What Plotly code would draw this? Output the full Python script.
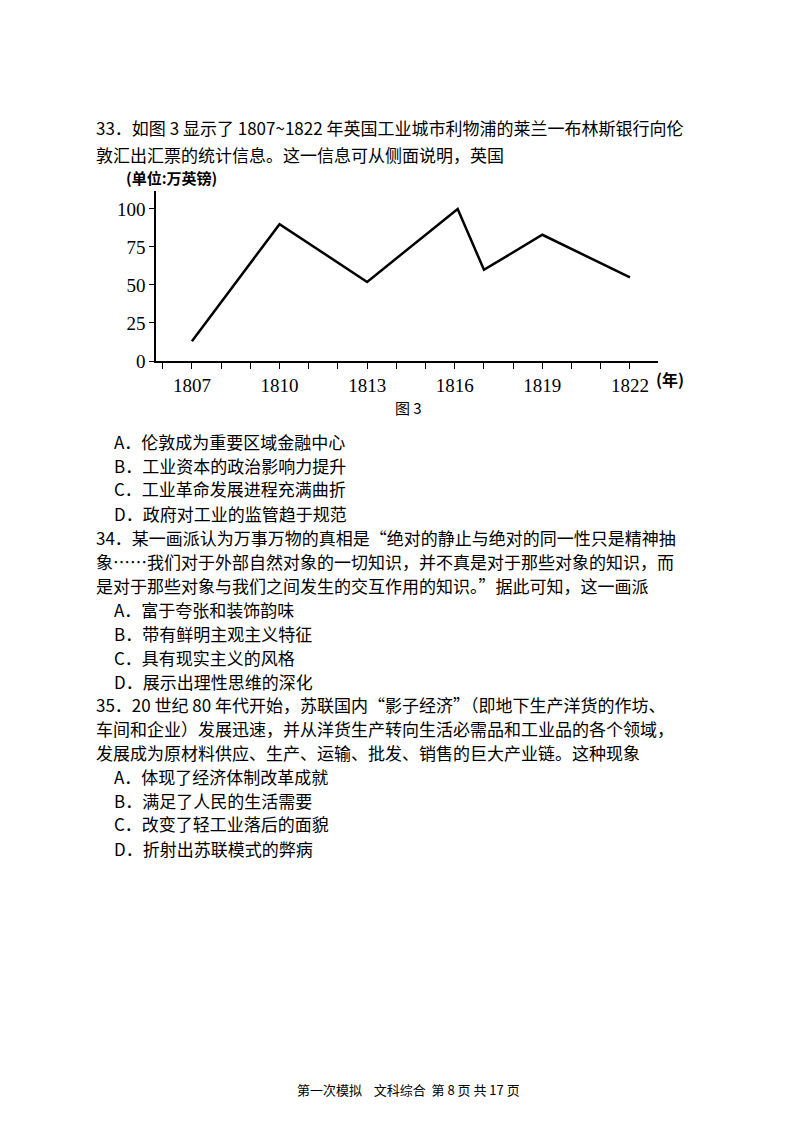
import plotly.graph_objects as go

years = [1807, 1810, 1813, 1816.1, 1817, 1819, 1822]
values = [13, 90, 52, 100, 60, 83, 55]
xtick_vals = [1807, 1810, 1813, 1816, 1819, 1822]
xtick_text = ["1807", "1810", "1813", "1816", "1819", "1822"]
ytick_vals = [0, 25, 50, 75, 100]

W, H = 800, 1129
fig = go.Figure(go.Scatter(x=years, y=values, mode="lines",
                           line=dict(color="black", width=2.5), showlegend=False))

fig.update_layout(
    width=W, height=H, margin=dict(l=0, r=0, t=0, b=0, autoexpand=False),
    paper_bgcolor="white", plot_bgcolor="white",
    font=dict(family="Noto Sans CJK SC", color="black"),
    xaxis=dict(domain=[148/W, 650/W], range=[1805.77, 1822.96], showline=True,
               linecolor="black", linewidth=1.5, showgrid=False, zeroline=False,
               automargin=False,
               tickmode="array", tickvals=xtick_vals, ticktext=xtick_text,
               ticks="outside", ticklen=6, tickcolor="black",
               minor=dict(dtick=1, tick0=1807, ticks="outside", ticklen=6, tickcolor="black"),
               tickfont=dict(family="Liberation Serif", size=19)),
    yaxis=dict(domain=[1-353/H, 1-183/H], range=[0, 111.8], showline=True,
               linecolor="black", linewidth=1.5, showgrid=False, zeroline=False,
               automargin=False,
               tickvals=ytick_vals, ticks="outside", ticklen=5, tickcolor="black",
               tickfont=dict(family="Liberation Serif", size=19)),
)

def txt(x, y, s, size=17, family="Noto Sans CJK SC", anchor="left"):
    fig.add_annotation(x=x/W, y=1-y/H, xref="paper", yref="paper", text=s,
                       showarrow=False, xanchor=anchor, yanchor="middle",
                       font=dict(size=size, family=family, color="black"))

lines = [
    (86, 119, "33．如图 3 显示了 1807~1822 年英国工业城市利物浦的莱兰一布林斯银行向伦"),
    (86, 146, "敦汇出汇票的统计信息。这一信息可从侧面说明，英国"),
    (104, 433, "A．伦敦成为重要区域金融中心"),
    (104, 457, "B．工业资本的政治影响力提升"),
    (104, 481, "C．工业革命发展进程充满曲折"),
    (104, 505, "D．政府对工业的监管趋于规范"),
    (86, 529, "34．某一画派认为万事万物的真相是“绝对的静止与绝对的同一性只是精神抽"),
    (86, 553, "象……我们对于外部自然对象的一切知识，并不真是对于那些对象的知识，而"),
    (86, 577, "是对于那些对象与我们之间发生的交互作用的知识。”据此可知，这一画派"),
    (104, 601, "A．富于夸张和装饰韵味"),
    (104, 625, "B．带有鲜明主观主义特征"),
    (104, 649, "C．具有现实主义的风格"),
    (104, 673, "D．展示出理性思维的深化"),
    (86, 696, "35．20 世纪 80 年代开始，苏联国内“影子经济”（即地下生产洋货的作坊、"),
    (86, 720, "车间和企业）发展迅速，并从洋货生产转向生活必需品和工业品的各个领域，"),
    (86, 744, "发展成为原材料供应、生产、运输、批发、销售的巨大产业链。这种现象"),
    (104, 768, "A．体现了经济体制改革成就"),
    (104, 792, "B．满足了人民的生活需要"),
    (104, 816, "C．改变了轻工业落后的面貌"),
    (104, 840, "D．折射出苏联模式的弊病"),
]
for x, y, s in lines:
    txt(x, y, s)

txt(116, 169, "<b>(单位:万英镑)</b>", size=15)
txt(646, 371, "<b>(年)</b>", size=16)
txt(400, 399, "图 3", size=15, anchor="center")
txt(400, 1081, "第一次模拟    文科综合  第 8 页 共 17 页", size=13, anchor="center")

fig.write_html("out.html")
